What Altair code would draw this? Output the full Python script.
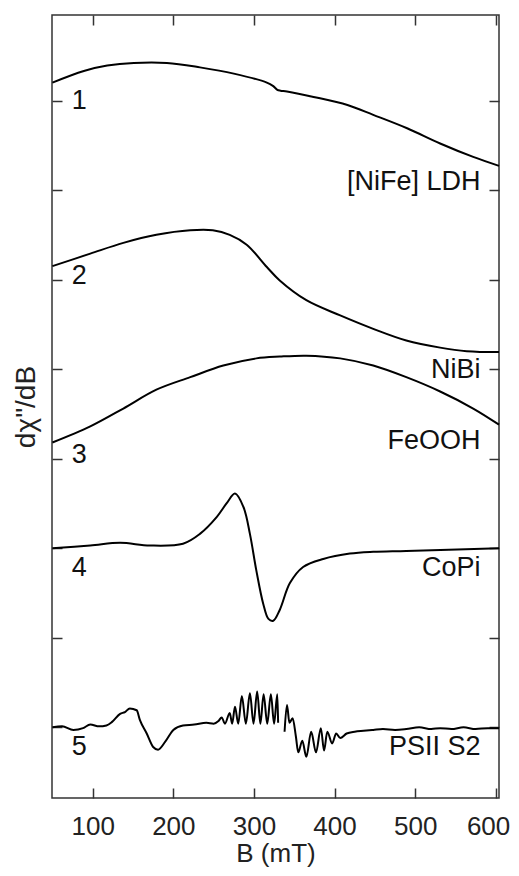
import altair as alt
import pandas as pd

FONT = "Liberation Sans"

# ---- spectra (B in mT, offset-stacked intensity in arbitrary units) ----
b1 = [50, 89, 118, 151, 192, 233, 275, 316, 324, 329, 333, 341, 374, 416, 448, 490, 531, 572, 604]
v1 = [7.20, 7.33, 7.39, 7.42, 7.42, 7.37, 7.30, 7.20, 7.16, 7.12, 7.11, 7.10, 7.04, 6.95, 6.84, 6.69, 6.52, 6.37, 6.27]

b2 = [50, 97, 138, 179, 221, 249, 270, 291, 316, 332, 365, 407, 448, 489, 531, 564, 604]
v2 = [5.15, 5.29, 5.41, 5.50, 5.55, 5.55, 5.50, 5.39, 5.14, 4.99, 4.77, 4.60, 4.45, 4.32, 4.24, 4.20, 4.19]

b3 = [50, 97, 138, 179, 221, 262, 303, 332, 365, 407, 448, 489, 531, 572, 604]
v3 = [3.18, 3.36, 3.56, 3.77, 3.91, 4.04, 4.12, 4.14, 4.15, 4.12, 4.04, 3.91, 3.75, 3.56, 3.38]

b4 = [50, 97, 134, 171, 212, 233, 254, 266, 276.5, 287, 295, 303, 311.5, 318, 324, 332, 344.6, 361, 386, 419, 448, 489, 604]
v4 = [2.00, 2.03, 2.06, 2.03, 2.05, 2.16, 2.35, 2.50, 2.61, 2.46, 2.16, 1.75, 1.38, 1.21, 1.19, 1.31, 1.61, 1.79, 1.88, 1.94, 1.96, 1.97, 2.00]

b5a = [50, 62, 76, 88, 97, 108, 117, 124, 134, 140, 146, 154.5, 158.6, 167, 175, 181, 190, 200, 212,
       226, 241, 250, 256, 260, 264, 270, 273, 276.5, 280.5, 285, 290, 295, 299.5, 304, 308, 312, 316.5,
       321, 325, 329, 330]
v5a = [0.00, 0.01, -0.03, -0.01, 0.03, 0.01, 0.02, 0.06, 0.15, 0.17, 0.21, 0.19, 0.08, -0.07, -0.22, -0.25,
       -0.16, -0.03, 0.02, 0.03, 0.05, 0.04, 0.07, 0.11, 0.04, 0.16, 0.04, 0.23, 0.04,
       0.35, 0.04, 0.38, 0.04, 0.40, 0.04, 0.37, 0.04, 0.37, 0.04, 0.37, 0.05]

b5b = [338, 341, 344, 348, 352, 355, 360, 365, 371, 377, 383, 387, 391, 397, 402, 407, 415, 425, 436, 448,
       460, 475, 489, 505, 520, 531, 545, 560, 575, 590, 604]
v5b = [-0.05, 0.25, 0.05, 0.10, -0.10, -0.28, -0.15, -0.33, -0.05, -0.28, -0.01, -0.26, -0.05, -0.18, -0.07,
       -0.12, -0.07, -0.05, -0.04, -0.03, -0.02, -0.03, -0.02, 0.00, -0.02, -0.01, -0.02, 0.00, -0.02, -0.01, -0.01]

# ---- labels ----
num_text = ["1", "2", "3", "4", "5"]
num_v = [6.99, 5.04, 3.04, 1.78, -0.22]
num_b = 74

name_text = ["[NiFe] LDH", "NiBi", "FeOOH", "CoPi", "PSII S2"]
name_v = [6.09, 3.99, 3.20, 1.78, -0.22]
name_b = 581

x_ticks = [100, 200, 300, 400, 500, 600]
y_ticks = [0, 1, 2, 3, 4, 5, 6, 7]

smooth_rows, psii_rows = [], []
for seg, bs, vs in [("1", b1, v1), ("2", b2, v2), ("3", b3, v3), ("4", b4, v4)]:
    for b, v in zip(bs, vs):
        smooth_rows.append({"B": b, "v": v, "seg": seg})
for seg, bs, vs in [("5a", b5a, v5a), ("5b", b5b, v5b)]:
    for b, v in zip(bs, vs):
        psii_rows.append({"B": b, "v": v, "seg": seg})
df = pd.DataFrame(smooth_rows)
df5 = pd.DataFrame(psii_rows)

nums = pd.DataFrame({"B": [num_b] * len(num_text), "v": num_v, "t": num_text})
names = pd.DataFrame({"B": [name_b] * len(name_text), "v": name_v, "t": name_text})

xscale = alt.Scale(domain=[49.5, 604], nice=False, zero=False)
yscale = alt.Scale(domain=[-0.79, 7.955], nice=False, zero=False)

tick_common = dict(offset=-10, tickSize=10, domain=False, grid=False, tickColor="#333", tickWidth=1.5)

lines = alt.Chart(df).mark_line(color="black", strokeWidth=2, interpolate="catmull-rom").encode(
    x=alt.X("B:Q", scale=xscale,
            axis=alt.Axis(title="B (mT)", values=x_ticks, labelPadding=15, titlePadding=1,
                          labelFontSize=26, titleFontSize=26, titleFontWeight="normal",
                          labelFlush=5, labelFlushOffset=14,
                          labelColor="#222", titleColor="#222", **tick_common)),
    y=alt.Y("v:Q", scale=yscale,
            axis=alt.Axis(title='dχ"/dB', values=y_ticks, labels=False, titlePadding=11,
                          titleFontSize=28, titleFontWeight="normal", titleColor="#222", **tick_common)),
    detail="seg:N",
)

psii = alt.Chart(df5).mark_line(color="black", strokeWidth=2, interpolate="monotone").encode(
    x=alt.X("B:Q", scale=xscale, axis=None),
    y=alt.Y("v:Q", scale=yscale, axis=None),
    detail="seg:N",
)

name_layer = alt.Chart(names).mark_text(align="right", baseline="middle", font=FONT, fontSize=27, color="#111").encode(
    x=alt.X("B:Q", scale=xscale,
            axis=alt.Axis(orient="top", values=x_ticks, labels=False, title=None, **tick_common)),
    y=alt.Y("v:Q", scale=yscale,
            axis=alt.Axis(orient="right", values=y_ticks, labels=False, title=None, **tick_common)),
    text="t:N",
)

num_layer = alt.Chart(nums).mark_text(align="left", baseline="middle", font=FONT, fontSize=27, color="#111").encode(
    x=alt.X("B:Q", scale=xscale, axis=None),
    y=alt.Y("v:Q", scale=yscale, axis=None),
    text="t:N",
)

chart = alt.layer(lines, psii, name_layer, num_layer).resolve_axis(
    x="independent", y="independent"
).properties(
    width=447, height=783,
    padding={"left": 44, "top": 7, "right": 12, "bottom": 70},
    autosize=alt.AutoSizeParams(type="none"),
    background="white",
).configure_view(
    stroke="#333", strokeWidth=1.5
).configure_axis(
    labelFont=FONT, titleFont=FONT
)

chart.save("out.html", embed_options={"renderer": "svg", "actions": False})
